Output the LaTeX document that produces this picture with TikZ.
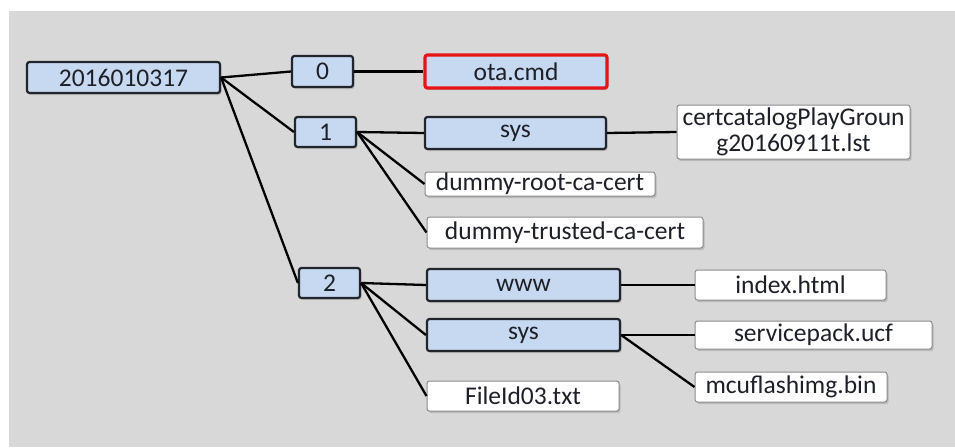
\documentclass[tikz,border=0pt]{standalone}
\usepackage{fontspec}
\setmainfont{Carlito}
\usetikzlibrary{shadows}
\definecolor{bgray}{RGB}{216,216,216}
\definecolor{boxblue}{RGB}{198,217,241}
\definecolor{boxline}{RGB}{34,38,44}
\definecolor{redline}{RGB}{228,20,24}
\definecolor{txt}{RGB}{30,32,40}
\begin{document}
\begin{tikzpicture}[x=1pt,y=-1pt,
  base/.style={rectangle, rounded corners=2.5pt, inner sep=0pt, font=\fontsize{25.5}{27}\selectfont, text=txt, align=center,
    drop shadow={shadow xshift=1.5pt, shadow yshift=-2pt, opacity=0.35}},
  bluebox/.style={base, fill=boxblue, draw=boxline, line width=2.2pt},
  redbox/.style={base, fill=boxblue, draw=redline, line width=3.2pt},
  filebox/.style={base, fill=white, draw=black!45, line width=1pt},
  link/.style={draw=black, line width=2.3pt}
]
\useasboundingbox (0,0) rectangle (955,447);
\fill[bgray] (9,11) rectangle (955,447);

\node[bluebox, minimum width=193pt, minimum height=31pt] (root) at (123.5,77.5) {2016010317};
\node[bluebox, minimum width=61pt, minimum height=31pt] (n0) at (322.5,71.5) {0};
\node[redbox, minimum width=182pt, minimum height=33pt] (ota) at (516,71.5) {ota.cmd};
\node[bluebox, minimum width=61pt, minimum height=30pt] (n1) at (325.5,132) {1};
\node[bluebox, minimum width=181pt, minimum height=32pt] (sysa) at (515.5,133) {sys};
\node[filebox, minimum width=233pt, minimum height=54pt, font=\fontsize{25.5}{26}\selectfont] (cert) at (793.5,132) {certcatalogPlayGroun\\g20160911t.lst};
\node[filebox, minimum width=230pt, minimum height=24pt] (droot) at (540,184) {dummy-root-ca-cert};
\node[filebox, minimum width=276pt, minimum height=31pt] (dtrust) at (565,232.5) {dummy-trusted-ca-cert};
\node[bluebox, minimum width=61pt, minimum height=30pt] (n2) at (329.5,283) {2};
\node[bluebox, minimum width=193pt, minimum height=32pt] (www) at (523.5,285) {www};
\node[bluebox, minimum width=193pt, minimum height=32pt] (sysb) at (523.5,335) {sys};
\node[filebox, minimum width=192pt, minimum height=30pt] (fileid) at (523,396) {FileId03.txt};
\node[filebox, minimum width=191pt, minimum height=30pt] (index) at (790.5,285) {index.html};
\node[filebox, minimum width=237pt, minimum height=28pt] (svc) at (813.5,335) {servicepack.ucf};
\node[filebox, minimum width=192pt, minimum height=30pt] (mcu) at (791,387) {mcuflashimg.bin};

\draw[link] (root.east) -- (n0.west);
\draw[link] (root.east) -- (n1.west);
\draw[link] (root.east) -- (n2.west);
\draw[link] (n0.east) -- (ota.west);
\draw[link] (n1.east) -- (sysa.west);
\draw[link] (n1.east) -- (droot.west);
\draw[link] (n1.east) -- (dtrust.west);
\draw[link] (sysa.east) -- (cert.west);
\draw[link] (n2.east) -- (www.west);
\draw[link] (n2.east) -- (sysb.west);
\draw[link] (n2.east) -- (fileid.west);
\draw[link] (www.east) -- (index.west);
\draw[link] (sysb.east) -- (svc.west);
\draw[link] (sysb.east) -- (mcu.west);
\end{tikzpicture}
\end{document}
